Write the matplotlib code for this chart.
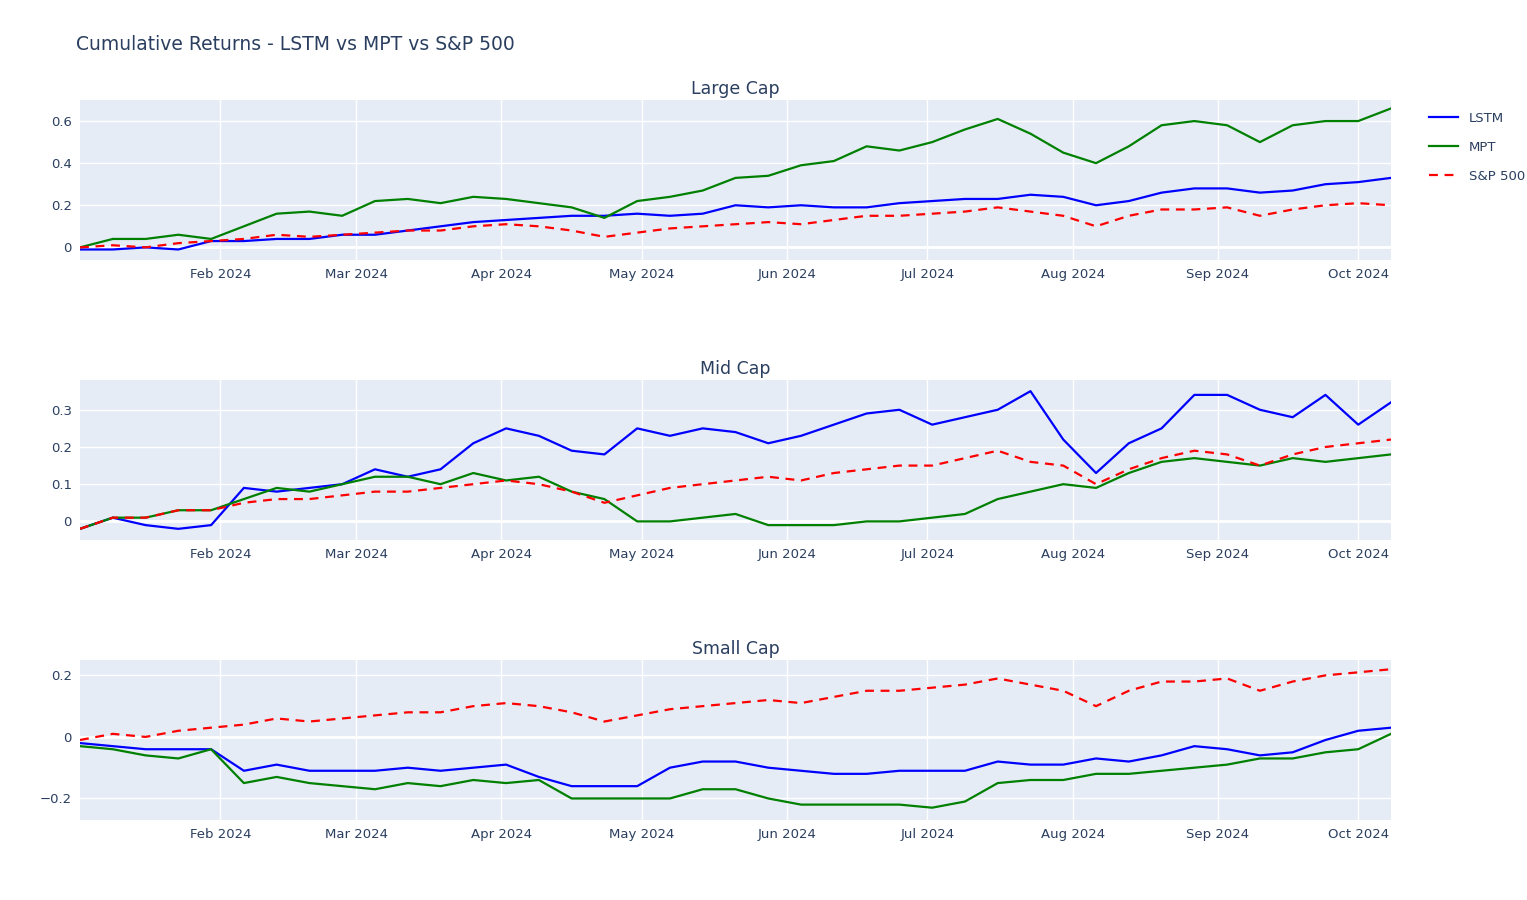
import numpy as np
import pandas as pd
import matplotlib
matplotlib.use('Agg')
import matplotlib.pyplot as plt
import matplotlib.dates as mdates

dates = pd.date_range('2024-01-02', '2024-10-08', freq='7D')

large_lstm = [-0.01,-0.01,0.0,-0.01,0.03,0.03,0.04,0.04,0.06,0.06,0.08,0.10,0.12,0.13,0.14,0.15,0.15,0.16,0.15,0.16,0.20,0.19,0.20,0.19,0.19,0.21,0.22,0.23,0.23,0.25,0.24,0.20,0.22,0.26,0.28,0.28,0.26,0.27,0.30,0.31,0.33]
large_mpt = [0.0,0.04,0.04,0.06,0.04,0.10,0.16,0.17,0.15,0.22,0.23,0.21,0.24,0.23,0.21,0.19,0.14,0.22,0.24,0.27,0.33,0.34,0.39,0.41,0.48,0.46,0.50,0.56,0.61,0.54,0.45,0.40,0.48,0.58,0.60,0.58,0.50,0.58,0.60,0.60,0.66]
sp500 = [0.0,0.01,0.0,0.02,0.03,0.04,0.06,0.05,0.06,0.07,0.08,0.08,0.10,0.11,0.10,0.08,0.05,0.07,0.09,0.10,0.11,0.12,0.11,0.13,0.15,0.15,0.16,0.17,0.19,0.17,0.15,0.10,0.15,0.18,0.18,0.19,0.15,0.18,0.20,0.21,0.20]

mid_lstm = [-0.02,0.01,-0.01,-0.02,-0.01,0.09,0.08,0.09,0.10,0.14,0.12,0.14,0.21,0.25,0.23,0.19,0.18,0.25,0.23,0.25,0.24,0.21,0.23,0.26,0.29,0.30,0.26,0.28,0.30,0.35,0.22,0.13,0.21,0.25,0.34,0.34,0.30,0.28,0.34,0.26,0.32]
mid_mpt = [-0.02,0.01,0.01,0.03,0.03,0.06,0.09,0.08,0.10,0.12,0.12,0.10,0.13,0.11,0.12,0.08,0.06,0.00,0.00,0.01,0.02,-0.01,-0.01,-0.01,0.00,0.00,0.01,0.02,0.06,0.08,0.10,0.09,0.13,0.16,0.17,0.16,0.15,0.17,0.16,0.17,0.18]
mid_sp = [-0.02,0.01,0.01,0.03,0.03,0.05,0.06,0.06,0.07,0.08,0.08,0.09,0.10,0.11,0.10,0.08,0.05,0.07,0.09,0.10,0.11,0.12,0.11,0.13,0.14,0.15,0.15,0.17,0.19,0.16,0.15,0.10,0.14,0.17,0.19,0.18,0.15,0.18,0.20,0.21,0.22]

small_lstm = [-0.02,-0.03,-0.04,-0.04,-0.04,-0.11,-0.09,-0.11,-0.11,-0.11,-0.10,-0.11,-0.10,-0.09,-0.13,-0.16,-0.16,-0.16,-0.10,-0.08,-0.08,-0.10,-0.11,-0.12,-0.12,-0.11,-0.11,-0.11,-0.08,-0.09,-0.09,-0.07,-0.08,-0.06,-0.03,-0.04,-0.06,-0.05,-0.01,0.02,0.03]
small_mpt = [-0.03,-0.04,-0.06,-0.07,-0.04,-0.15,-0.13,-0.15,-0.16,-0.17,-0.15,-0.16,-0.14,-0.15,-0.14,-0.20,-0.20,-0.20,-0.20,-0.17,-0.17,-0.20,-0.22,-0.22,-0.22,-0.22,-0.23,-0.21,-0.15,-0.14,-0.14,-0.12,-0.12,-0.11,-0.10,-0.09,-0.07,-0.07,-0.05,-0.04,0.01]
small_sp = [-0.01,0.01,0.0,0.02,0.03,0.04,0.06,0.05,0.06,0.07,0.08,0.08,0.10,0.11,0.10,0.08,0.05,0.07,0.09,0.10,0.11,0.12,0.11,0.13,0.15,0.15,0.16,0.17,0.19,0.17,0.15,0.10,0.15,0.18,0.18,0.19,0.15,0.18,0.20,0.21,0.22]

panels = [
    ('Large Cap', large_lstm, large_mpt, sp500, (-0.06, 0.7), [0, 0.2, 0.4, 0.6], ['0', '0.2', '0.4', '0.6']),
    ('Mid Cap', mid_lstm, mid_mpt, mid_sp, (-0.05, 0.38), [0, 0.1, 0.2, 0.3], ['0', '0.1', '0.2', '0.3']),
    ('Small Cap', small_lstm, small_mpt, small_sp, (-0.27, 0.25), [-0.2, 0, 0.2], ['\u22120.2', '0', '0.2']),
]

fig = plt.figure(figsize=(15.27, 9), dpi=100)
W, H = 1527, 900
tops = [100, 380, 660]
txt = '#2a3f5f'
for i, (name, l, m, s, ylim, yt, ytl) in enumerate(panels):
    ax = fig.add_axes([80 / W, 1 - (tops[i] + 160) / H, 1311 / W, 160 / H])
    ax.set_facecolor('#E5ECF6')
    ax.plot(dates, l, color='blue', lw=1.6, label='LSTM')
    ax.plot(dates, m, color='green', lw=1.6, label='MPT')
    ax.plot(dates, s, color='red', lw=1.6, ls=(0, (4, 3)), label='S&P 500')
    ax.set_xlim(pd.Timestamp('2024-01-02'), pd.Timestamp('2024-10-08'))
    ax.set_ylim(*ylim)
    ax.set_yticks(yt)
    ax.set_yticklabels(ytl)
    ax.xaxis.set_major_locator(mdates.MonthLocator(bymonth=range(2, 11)))
    ax.xaxis.set_major_formatter(mdates.DateFormatter('%b %Y'))
    ax.grid(color='white', lw=1)
    ax.axhline(0, color='white', lw=2, zorder=1)
    ax.set_axisbelow(True)
    for sp in ax.spines.values():
        sp.set_visible(False)
    ax.tick_params(length=0, labelsize=9.5, colors=txt, pad=6)
    ax.set_title(name, fontsize=12.5, color=txt, pad=4)
    if i == 0:
        ax.legend(loc='upper left', bbox_to_anchor=(1.02, 1.0), frameon=False,
                  fontsize=9.5, labelcolor=txt, handlelength=2.2, labelspacing=1.2)

fig.text(76 / W, 1 - 44 / H, 'Cumulative Returns - LSTM vs MPT vs S&P 500',
         fontsize=13.5, color=txt, va='center')
fig.savefig('out.png', dpi=100)
